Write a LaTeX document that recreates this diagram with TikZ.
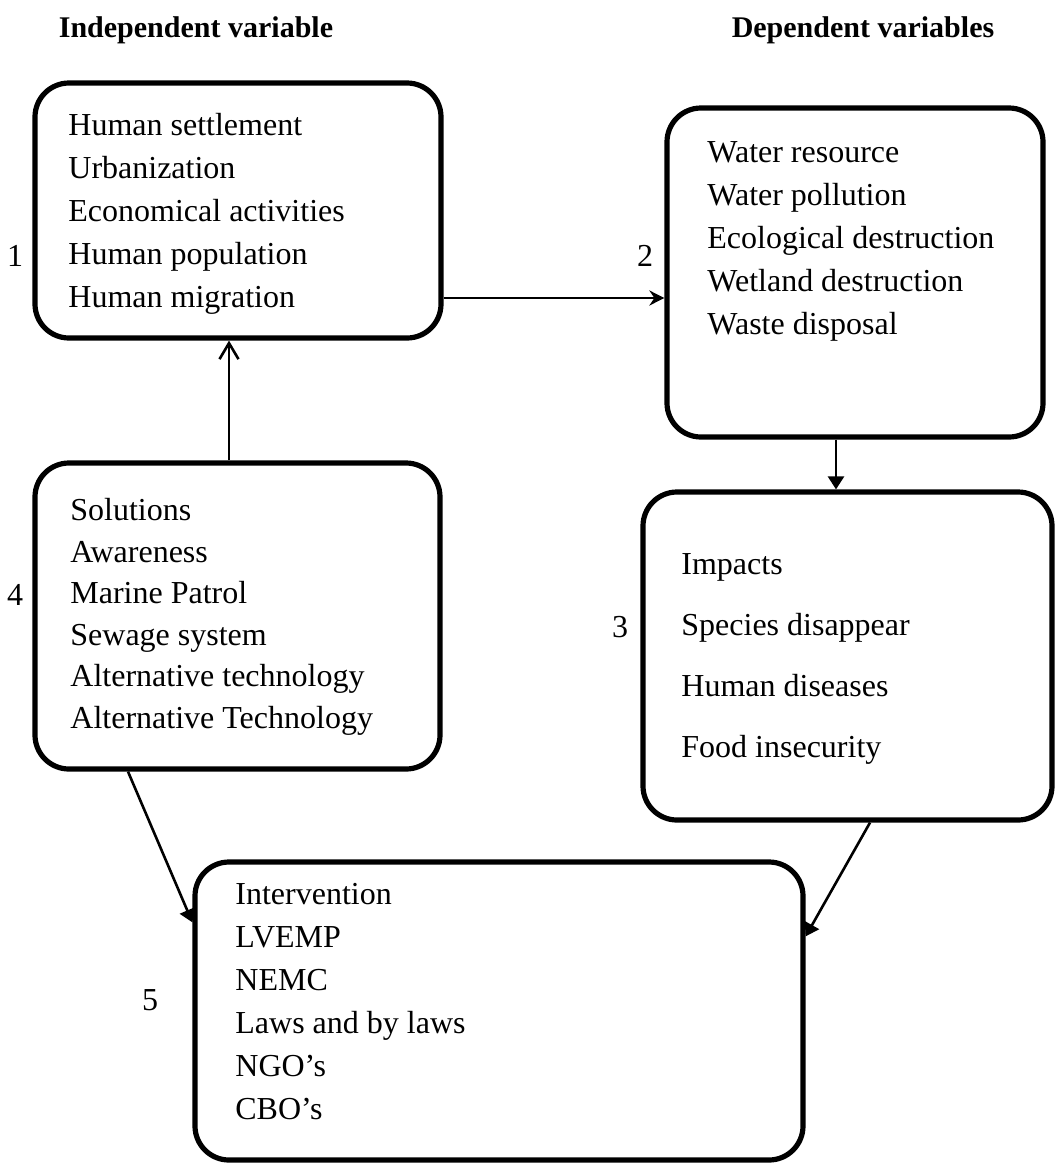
\documentclass[tikz,border=0pt]{standalone}
\usepackage{fontspec}
\setmainfont{Liberation Serif}
\usetikzlibrary{positioning,arrows.meta}

\tikzstyle{box} = [rectangle, rounded corners=17pt, line width=2.6pt, draw=black, fill=none, inner sep=0pt]
\tikzstyle{txt} = [anchor=north west, align=left, inner sep=0pt, font=\fontsize{16}{21.5}\selectfont]
\tikzstyle{num} = [inner sep=0pt, font=\fontsize{16}{18}\selectfont]
\tikzstyle{head} = [inner sep=0pt, font=\fontsize{15}{18}\selectfont\bfseries]
\tikzstyle{arrow} = [line width=1.3pt, -{Triangle[length=6.5pt,width=8pt]}]

\begin{document}
\begin{tikzpicture}[x=0.5pt, y=-0.5pt]
        \useasboundingbox (0,0) rectangle (1056,1173);

        \node (Head Ind) [head] at (196,30) {Independent variable};
        \node (Head Dep) [head] at (863,30) {Dependent variables};

        \node (Causes) [box, minimum width=203pt, minimum height=127.5pt] at (238,210.5) {};
        \node (Effects) [box, minimum width=188pt, minimum height=164.5pt] at (855,272.5) {};
        \node (Impacts) [box, minimum width=204.5pt, minimum height=164pt] at (847.5,656) {};
        \node (Solutions) [box, minimum width=202.5pt, minimum height=153pt] at (237.5,616) {};
        \node (Intervention) [box, minimum width=304pt, minimum height=149pt] at (499,1011) {};

        \node (Causes Text) [txt] at (68,113) {Human settlement\\ Urbanization\\ Economical activities\\ Human population\\ Human migration};
        \node (Effects Text) [txt] at (707,141) {Water resource\\ Water pollution\\ Ecological destruction\\ Wetland destruction\\ Waste disposal};
        \node (Impacts Text) [txt] at (681,553) {Impacts\\[9pt] Species disappear\\[9pt] Human diseases\\[9pt] Food insecurity};
        \node (Solutions Text) [txt, font=\fontsize{16}{20.75}\selectfont] at (70,498) {Solutions\\ Awareness\\ Marine Patrol\\ Sewage system\\ Alternative technology\\ Alternative Technology};
        \node (Intervention Text) [txt] at (235,883) {Intervention\\ LVEMP\\ NEMC\\ Laws and by laws\\ NGO’s\\ CBO’s};

        \node (One) [num] at (15,256) {1};
        \node (Two) [num] at (645,256) {2};
        \node (Three) [num] at (620,627) {3};
        \node (Four) [num] at (15,595) {4};
        \node (Five) [num] at (150,1000) {5};

        \draw [line width=1.3pt, -{Stealth[length=7.5pt,width=7.5pt,inset=2.5pt]}] ([yshift=-43.75pt]Causes.east) coordinate (a12) -- (a12 -| Effects.west);
        \draw [line width=1.3pt, -{Straight Barb[length=8pt,width=9.5pt]}] ([xshift=-4.25pt]Solutions.north) coordinate (a41) -- (a41 |- Causes.south);
        \draw [arrow] ([xshift=-9.5pt]Effects.south) coordinate (a23) -- (a23 |- Impacts.north);
        \draw [arrow] ([xshift=-54.75pt]Solutions.south) -- ([yshift=-31.5pt]Intervention.north west);
        \draw [arrow] ([xshift=11.25pt]Impacts.south) -- ([yshift=-38.5pt]Intervention.north east);
    \end{tikzpicture}
\end{document}
